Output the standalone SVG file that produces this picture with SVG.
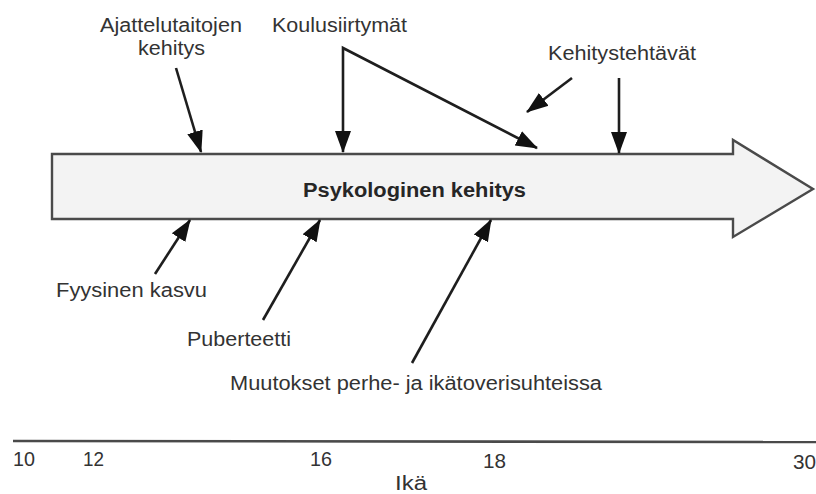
<svg xmlns="http://www.w3.org/2000/svg" width="816" height="494" viewBox="0 0 816 494">
<style>
  text { font-family: "Liberation Sans", Arial, sans-serif; font-size: 20px; fill: #333333; }
  .bold { font-weight: bold; font-size: 20px; fill: #262626; }
  .num { font-size: 20px; }
  .conn { stroke: #1e1e1e; stroke-width: 2.6; fill: none; }
</style>
<defs>
  <marker id="ah" markerUnits="userSpaceOnUse" markerWidth="22" markerHeight="18" viewBox="0 0 22 18" refX="21" refY="9" orient="auto-start-reverse">
    <path d="M0,1 L22,9 L0,17 z" fill="#111"/>
  </marker>
</defs>
<rect width="816" height="494" fill="#ffffff"/>

<g id="main-arrow">
  <polygon points="52,154 733,154 733,140 813,189 733,237 733,219 52,219" fill="#f3f3f3" stroke="#4a4a4a" stroke-width="2.4" stroke-linejoin="miter"/>
  <text class="bold" x="303" y="197" textLength="223" lengthAdjust="spacingAndGlyphs">Psykologinen kehitys</text>
</g>

<g id="ajattelutaitojen">
  <text x="100" y="32" textLength="142" lengthAdjust="spacingAndGlyphs">Ajattelutaitojen</text>
  <text x="138" y="55" textLength="67" lengthAdjust="spacingAndGlyphs">kehitys</text>
</g>
<g id="koulusiirtymat">
  <text x="272" y="32" textLength="135" lengthAdjust="spacingAndGlyphs">Koulusiirtymät</text>
</g>
<g id="kehitystehtavat">
  <text x="548" y="60" textLength="148" lengthAdjust="spacingAndGlyphs">Kehitystehtävät</text>
</g>
<g id="fyysinen-kasvu">
  <text x="56" y="297" textLength="151" lengthAdjust="spacingAndGlyphs">Fyysinen kasvu</text>
</g>
<g id="puberteetti">
  <text x="187" y="346" textLength="104" lengthAdjust="spacingAndGlyphs">Puberteetti</text>
</g>
<g id="muutokset">
  <text x="230" y="390" textLength="372" lengthAdjust="spacingAndGlyphs">Muutokset perhe- ja ikätoverisuhteissa</text>
</g>

<g id="connectors">
  <line class="conn" x1="176" y1="68" x2="201" y2="152" marker-end="url(#ah)"/>
  <path class="conn" d="M343,152 L343,48 L537,148" marker-start="url(#ah)" marker-end="url(#ah)"/>
  <line class="conn" x1="572" y1="78" x2="527" y2="112" marker-end="url(#ah)"/>
  <line class="conn" x1="619" y1="78" x2="619" y2="153" marker-end="url(#ah)"/>
  <line class="conn" x1="155" y1="274" x2="190" y2="220" marker-end="url(#ah)"/>
  <line class="conn" x1="263" y1="320" x2="320" y2="220" marker-end="url(#ah)"/>
  <line class="conn" x1="412" y1="363" x2="491" y2="220" marker-end="url(#ah)"/>
</g>

<g id="age-axis">
  <line x1="13" y1="441" x2="816" y2="442" stroke="#4a4a4a" stroke-width="2.6"/>
  <text class="num" x="13" y="466" textLength="22" lengthAdjust="spacingAndGlyphs">10</text>
  <text class="num" x="83" y="466" textLength="21" lengthAdjust="spacingAndGlyphs">12</text>
  <text class="num" x="310" y="466" textLength="22" lengthAdjust="spacingAndGlyphs">16</text>
  <text class="num" x="483" y="468" textLength="23" lengthAdjust="spacingAndGlyphs">18</text>
  <text class="num" x="793" y="469" textLength="23" lengthAdjust="spacingAndGlyphs">30</text>
  <text x="395" y="490" textLength="32" lengthAdjust="spacingAndGlyphs">Ikä</text>
</g>
</svg>
